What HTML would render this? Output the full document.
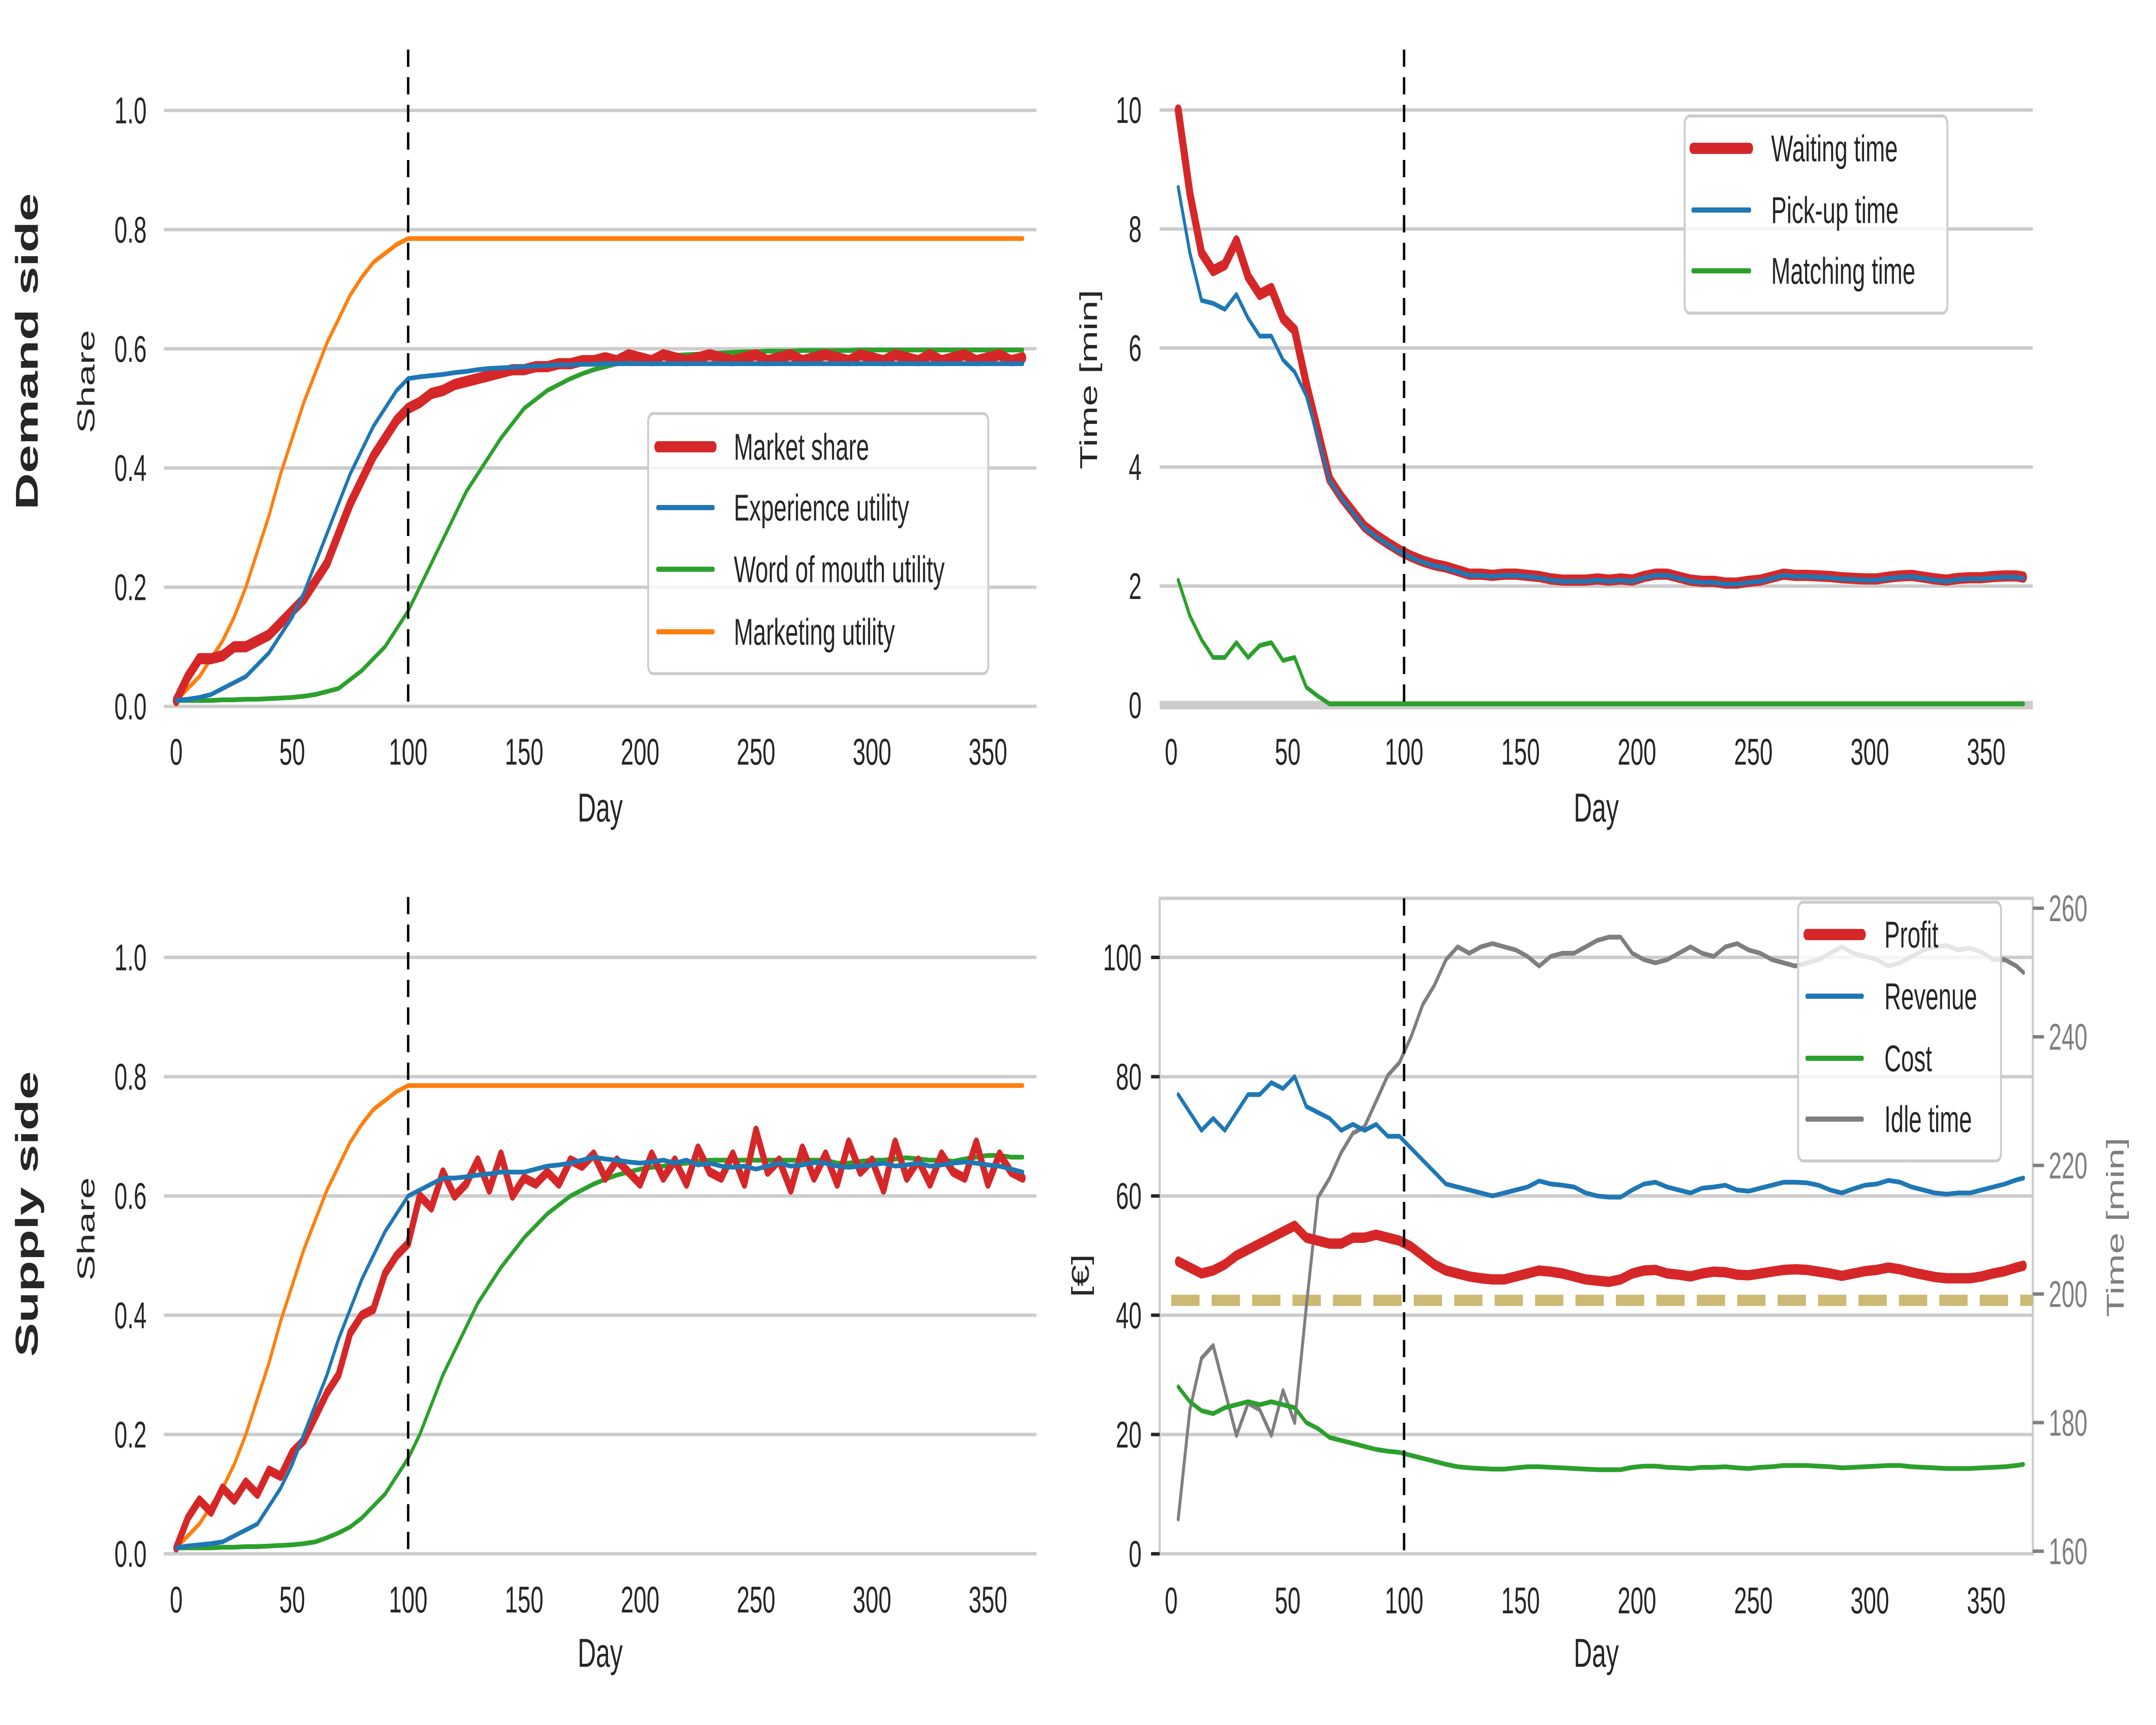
<!DOCTYPE html>
<html><head><meta charset="utf-8"><style>
html,body{margin:0;padding:0;background:#fff;overflow:hidden;}
svg{display:block;width:100vw;height:100vh;font-family:"Liberation Sans",Arial,sans-serif;}
</style></head><body>
<svg id="fig" viewBox="0 0 8000 4000" preserveAspectRatio="none" xmlns="http://www.w3.org/2000/svg">
<rect width="8000" height="4000" fill="#fff"/>
</svg>
<script>
// ---------- DATA ----------
const shareDays=[0,5,10,15,20,25,30,35,40,45,50,55,60,65,70,75,80,85,90,95,100,105,110,115,120,125,130,135,140,145,150,155,160,165,170,175,180,185,190,195,200,205,210,215,220,225,230,235,240,245,250,255,260,265,270,275,280,285,290,295,300,305,310,315,320,325,330,335,340,345,350,355,360,365];
const dMarketShare=[0.01,0.05,0.08,0.08,0.085,0.1,0.1,0.11,0.12,0.14,0.16,0.18,0.21,0.24,0.29,0.34,0.38,0.42,0.45,0.48,0.5,0.51,0.525,0.53,0.54,0.545,0.55,0.555,0.56,0.565,0.565,0.57,0.57,0.575,0.575,0.58,0.58,0.585,0.58,0.59,0.585,0.58,0.59,0.585,0.58,0.585,0.59,0.585,0.58,0.585,0.59,0.58,0.585,0.59,0.58,0.585,0.59,0.585,0.58,0.59,0.585,0.58,0.59,0.585,0.58,0.59,0.58,0.585,0.59,0.58,0.585,0.59,0.58,0.585];
const dExperience=[0.01,0.012,0.015,0.02,0.03,0.04,0.05,0.07,0.09,0.12,0.15,0.19,0.24,0.29,0.34,0.39,0.43,0.47,0.5,0.53,0.55,0.553,0.555,0.557,0.56,0.562,0.565,0.567,0.568,0.569,0.57,0.571,0.572,0.573,0.573,0.574,0.574,0.575,0.575,0.575,0.575,0.575,0.575,0.575,0.575,0.575,0.575,0.575,0.575,0.575,0.575,0.575,0.575,0.575,0.575,0.575,0.575,0.575,0.575,0.575,0.575,0.575,0.575,0.575,0.575,0.575,0.575,0.575,0.575,0.575,0.575,0.575,0.575,0.575];
const dWordOfMouth=[0.01,0.01,0.01,0.01,0.011,0.011,0.012,0.012,0.013,0.014,0.015,0.017,0.02,0.025,0.03,0.045,0.06,0.08,0.1,0.13,0.16,0.2,0.24,0.28,0.32,0.36,0.39,0.42,0.45,0.475,0.5,0.515,0.53,0.54,0.55,0.558,0.565,0.57,0.575,0.579,0.583,0.585,0.587,0.589,0.59,0.591,0.592,0.593,0.594,0.595,0.595,0.596,0.596,0.596,0.597,0.597,0.597,0.597,0.597,0.598,0.598,0.598,0.598,0.598,0.598,0.598,0.598,0.598,0.598,0.598,0.598,0.598,0.598,0.598];
const dMarketing=[0.01,0.03,0.05,0.08,0.11,0.15,0.2,0.26,0.32,0.39,0.45,0.51,0.56,0.61,0.65,0.69,0.72,0.745,0.76,0.775,0.785,0.785,0.785,0.785,0.785,0.785,0.785,0.785,0.785,0.785,0.785,0.785,0.785,0.785,0.785,0.785,0.785,0.785,0.785,0.785,0.785,0.785,0.785,0.785,0.785,0.785,0.785,0.785,0.785,0.785,0.785,0.785,0.785,0.785,0.785,0.785,0.785,0.785,0.785,0.785,0.785,0.785,0.785,0.785,0.785,0.785,0.785,0.785,0.785,0.785,0.785,0.785,0.785,0.785];

const sMarketShare=[0.01,0.06,0.09,0.07,0.11,0.09,0.12,0.1,0.14,0.13,0.17,0.19,0.23,0.27,0.3,0.37,0.4,0.41,0.47,0.5,0.52,0.6,0.58,0.64,0.6,0.62,0.66,0.61,0.67,0.6,0.63,0.62,0.64,0.62,0.66,0.65,0.67,0.63,0.66,0.64,0.62,0.67,0.63,0.66,0.62,0.68,0.64,0.63,0.67,0.62,0.71,0.64,0.66,0.61,0.68,0.63,0.67,0.62,0.69,0.64,0.66,0.61,0.69,0.63,0.66,0.62,0.67,0.64,0.63,0.69,0.62,0.67,0.64,0.63];
const sExperience=[0.01,0.013,0.015,0.017,0.02,0.03,0.04,0.05,0.08,0.11,0.15,0.2,0.25,0.3,0.36,0.41,0.46,0.5,0.54,0.57,0.6,0.61,0.62,0.63,0.63,0.632,0.635,0.637,0.64,0.64,0.64,0.645,0.65,0.652,0.655,0.66,0.665,0.662,0.66,0.657,0.655,0.657,0.66,0.655,0.66,0.652,0.655,0.65,0.648,0.65,0.645,0.65,0.655,0.65,0.652,0.656,0.655,0.65,0.648,0.65,0.652,0.655,0.65,0.652,0.655,0.65,0.652,0.655,0.657,0.655,0.652,0.65,0.645,0.64];
const sWordOfMouth=[0.01,0.01,0.01,0.01,0.011,0.011,0.012,0.012,0.013,0.014,0.015,0.017,0.02,0.027,0.035,0.045,0.06,0.08,0.1,0.13,0.16,0.2,0.25,0.3,0.34,0.38,0.42,0.45,0.48,0.505,0.53,0.55,0.57,0.585,0.6,0.61,0.62,0.628,0.635,0.64,0.645,0.648,0.65,0.653,0.655,0.658,0.66,0.66,0.66,0.66,0.66,0.66,0.66,0.66,0.66,0.66,0.66,0.655,0.655,0.658,0.66,0.66,0.662,0.664,0.662,0.66,0.66,0.658,0.662,0.665,0.668,0.668,0.665,0.665];
const sMarketing=dMarketing;

const timeDays=[3,8,13,18,23,28,33,38,43,48,53,58,63,68,73,78,83,88,93,98,103,108,113,118,123,128,133,138,143,148,153,158,163,168,173,178,183,188,193,198,203,208,213,218,223,228,233,238,243,248,253,258,263,268,273,278,283,288,293,298,303,308,313,318,323,328,333,338,343,348,353,358,363,366];
const waitingTime=[10.0,8.6,7.6,7.3,7.4,7.8,7.2,6.9,7.0,6.5,6.3,5.4,4.6,3.8,3.5,3.25,3.0,2.85,2.72,2.6,2.5,2.42,2.36,2.32,2.26,2.2,2.2,2.18,2.2,2.2,2.18,2.16,2.12,2.1,2.1,2.1,2.12,2.1,2.12,2.1,2.16,2.2,2.2,2.15,2.1,2.08,2.08,2.05,2.05,2.08,2.1,2.15,2.2,2.18,2.18,2.17,2.16,2.14,2.13,2.12,2.12,2.15,2.17,2.18,2.15,2.12,2.1,2.13,2.14,2.14,2.16,2.17,2.17,2.15];
const pickupTime=[8.7,7.6,6.8,6.75,6.65,6.9,6.5,6.2,6.2,5.8,5.6,5.2,4.5,3.78,3.48,3.23,2.98,2.83,2.7,2.58,2.48,2.4,2.34,2.3,2.24,2.18,2.18,2.16,2.18,2.18,2.16,2.14,2.1,2.08,2.08,2.08,2.1,2.08,2.1,2.08,2.14,2.18,2.18,2.13,2.08,2.06,2.06,2.03,2.03,2.06,2.08,2.13,2.18,2.16,2.16,2.15,2.14,2.12,2.11,2.1,2.1,2.13,2.15,2.16,2.13,2.1,2.08,2.11,2.12,2.12,2.14,2.15,2.15,2.13];
const matchingTime=[2.1,1.5,1.1,0.8,0.8,1.05,0.8,1.0,1.05,0.75,0.8,0.3,0.15,0.02,0.02,0.02,0.02,0.02,0.02,0.02,0.02,0.02,0.02,0.02,0.02,0.02,0.02,0.02,0.02,0.02,0.02,0.02,0.02,0.02,0.02,0.02,0.02,0.02,0.02,0.02,0.02,0.02,0.02,0.02,0.02,0.02,0.02,0.02,0.02,0.02,0.02,0.02,0.02,0.02,0.02,0.02,0.02,0.02,0.02,0.02,0.02,0.02,0.02,0.02,0.02,0.02,0.02,0.02,0.02,0.02,0.02,0.02,0.02,0.02];

const revenue=[77,74,71,73,71,74,77,77,79,78,80,75,74,73,71,72,71,72,70,70,68,66,64,62,61.5,61,60.5,60,60.5,61,61.5,62.5,62,61.8,61.5,60.5,60,59.8,59.8,61,62,62.3,61.5,61,60.5,61.3,61.5,61.8,61,60.8,61.3,61.8,62.3,62.3,62.2,61.8,61,60.5,61.2,61.8,62,62.6,62.3,61.5,61,60.5,60.3,60.5,60.5,61,61.5,62,62.7,63];
const profit=[49,48,47,47.5,48.5,50,51,52,53,54,55,53,52.5,52,52,53,53,53.5,53,52.5,51.5,50,48.5,47.5,47,46.5,46.2,46,46,46.5,47,47.5,47.3,47,46.5,46,45.8,45.6,46,47,47.5,47.6,47,46.8,46.5,47,47.3,47.2,46.8,46.7,47,47.3,47.6,47.7,47.6,47.3,47,46.6,47,47.4,47.6,48,47.7,47.2,46.8,46.4,46.2,46.2,46.2,46.5,47,47.4,48,48.3];
const cost=[28,25.5,24,23.5,24.5,25,25.5,25,25.5,25,24.5,22,21,19.5,19,18.5,18,17.5,17.2,17,16.5,16,15.5,15,14.6,14.4,14.3,14.2,14.2,14.4,14.6,14.6,14.5,14.4,14.3,14.2,14.1,14.1,14.1,14.5,14.7,14.7,14.5,14.4,14.3,14.5,14.5,14.6,14.4,14.3,14.5,14.6,14.8,14.8,14.8,14.7,14.6,14.4,14.5,14.6,14.7,14.8,14.8,14.6,14.5,14.4,14.3,14.3,14.3,14.4,14.5,14.6,14.8,15];
const idleTime=[165,182,190,192,185,178,183,182,178,185,180,198,215,218,222,225,226,230,234,236,240,245,248,252,254,253,254,254.5,254,253.5,252.5,251,252.5,253,253,254,255,255.5,255.5,253,252,251.5,252,253,254,253,252.5,254,254.5,253.5,253,252,251.5,251,251.5,252,253,254,253,252.5,252,251,251.5,252.5,253.5,254,254.2,253.5,253.8,253.2,252,252,251,250];
const profitRef=42.5;
const xTicks=[0,50,100,150,200,250,300,350];
const shareTicks=[0,0.2,0.4,0.6,0.8,1.0];
const timeTicks=[0,2,4,6,8,10];
const euroTicks=[0,20,40,60,80,100];
const idleTicks=[160,180,200,220,240,260];
const policyDay=100;

// ---------- DRAW ----------
const NS='http://www.w3.org/2000/svg';
const svg=document.getElementById('fig');
function el(tag,attrs,parent){const e=document.createElementNS(NS,tag);for(const k in attrs)e.setAttribute(k,attrs[k]);(parent||svg).appendChild(e);return e;}
function txt(s,attrs,parent){const e=el('text',attrs,parent);e.textContent=s;return e;}
const C={red:'#d62728',blue:'#1f77b4',green:'#2ca02c',orange:'#ff7f0e',gray:'#7f7f7f',tan:'#ccb974',txt:'#262626',grid:'#cccccc'};

function panel(o){
  const g=el('g',{});
  
  
  const sx=d=>o.x0+(d-0)*o.kx;
  const sy=v=>o.yb-(v-o.ymin)/(o.ymax-o.ymin)*(o.yb-o.yt);
  if(o.frame){const r=el('rect',{x:o.ax0,y:o.ft,width:o.ax1-o.ax0,height:o.yb-o.ft,fill:'none',stroke:C.grid,'stroke-width':8},g);
    }
  o.yticks.forEach(v=>{
    const y=sy(v);
    const l=el('line',{x1:o.ax0,x2:o.ax1,y1:y,y2:y,stroke:C.grid,'stroke-width':(v===o.ymin&&o.thickBase)?20:8},g);
    
    if(o.leftTicks){const t=el('line',{x1:o.ax0-32,x2:o.ax0,y1:y,y2:y,stroke:C.txt,'stroke-width':8},g);}
    const t=txt(o.fmt(v),{x:o.ylx,y:y+30,'font-size':86,'text-anchor':'end',fill:C.txt},g);
    
  });
  xTicks.forEach(d=>{const t=txt(String(d),{x:sx(d),y:o.xly,'font-size':86,'text-anchor':'middle',fill:C.txt},g);
    });
  const xl=txt('Day',{x:(o.ax0+o.ax1)/2,y:o.xty,'font-size':94,'text-anchor':'middle',fill:C.txt},g);
  
  const yl=txt(o.ylabel,{x:0,y:0,'font-size':90,'text-anchor':'middle',fill:C.txt,transform:`translate(${o.ytx},${o.yty}) rotate(-90)`},g);
  
  if(o.extra)o.extra(g,sx,sy);
  o.series.forEach(s=>{
    const ys=s.right?o.sy2:sy;
    const d=s.vals.map((v,i)=>(i?'L':'M')+sx(s.days[i]).toFixed(1)+' '+ys(v).toFixed(1)).join(' ');
    const p=el('path',{d,fill:'none',stroke:s.c,'stroke-width':s.w,'stroke-linejoin':'round','stroke-linecap':'round'},g);
    
  });
  const vx=sx(policyDay);
  const vl=el('line',{x1:vx,x2:vx,y1:o.vt,y2:o.yb,stroke:'#000','stroke-width':9,'stroke-dasharray':'40 24'},g);
  
  if(o.legend){const L=o.legend;
    const lg=el('g',{},g);
    el('rect',{x:L.x,y:L.y,width:L.w,height:L.h,rx:18,fill:'#fff','fill-opacity':0.8,stroke:C.grid,'stroke-width':7},lg);
    L.items.forEach((it,i)=>{const yy=L.ys[i];
      const e=el('g',{},lg);
      el('line',{x1:L.lx0,x2:L.lx1,y1:yy,y2:yy,stroke:it.c,'stroke-width':it.w,'stroke-linecap':'round'},e);
      txt(it.t,{x:L.tx,y:yy+30,'font-size':86,fill:C.txt},e);});
  }
  return {sx,sy};
}

const shareFmt=v=>v.toFixed(1);
panel({name:'demand-share-chart',x0:654,kx:8.605,ax0:608,ax1:3846,yb:1638,yt:256,ymin:0,ymax:1,yticks:shareTicks,fmt:shareFmt,ylx:544,xly:1773,xty:1905,ylabel:'Share',ytx:350,yty:885,vt:115,
  series:[{name:'marketing-utility-line',days:shareDays,vals:dMarketing,c:C.orange,w:11},
          {name:'word-of-mouth-line',days:shareDays,vals:dWordOfMouth,c:C.green,w:11},
          {name:'market-share-line',days:shareDays,vals:dMarketShare,c:C.red,w:26},
          {name:'experience-utility-line',days:shareDays,vals:dExperience,c:C.blue,w:11}],
  legend:{x:2405,y:959,w:1262,h:603,lx0:2441,lx1:2646,tx:2723,ys:[1036,1177,1320,1465],
    items:[{t:'Market share',c:C.red,w:26},{t:'Experience utility',c:C.blue,w:12},{t:'Word of mouth utility',c:C.green,w:12},{t:'Marketing utility',c:C.orange,w:12}]}});

panel({name:'demand-time-chart',x0:4346,kx:8.64,ax0:4303,ax1:7543,yb:1635,yt:255,ymin:0,ymax:10,yticks:timeTicks,fmt:v=>String(v),ylx:4236,xly:1773,xty:1905,ylabel:'Time [min]',ytx:4070,yty:880,vt:115,thickBase:true,
  series:[{name:'matching-time-line',days:timeDays,vals:matchingTime,c:C.green,w:11},
          {name:'waiting-time-line',days:timeDays,vals:waitingTime,c:C.red,w:26},
          {name:'pickup-time-line',days:timeDays,vals:pickupTime,c:C.blue,w:11}],
  legend:{x:6251,y:269,w:975,h:457,lx0:6282,lx1:6492,tx:6572,ys:[344,487,628],
    items:[{t:'Waiting time',c:C.red,w:26},{t:'Pick-up time',c:C.blue,w:12},{t:'Matching time',c:C.green,w:12}]}});

panel({name:'supply-share-chart',x0:654,kx:8.605,ax0:608,ax1:3846,yb:3603,yt:2220,ymin:0,ymax:1,yticks:shareTicks,fmt:shareFmt,ylx:544,xly:3739,xty:3865,ylabel:'Share',ytx:350,yty:2850,vt:2080,
  series:[{name:'marketing-utility-line',days:shareDays,vals:sMarketing,c:C.orange,w:11},
          {name:'word-of-mouth-line',days:shareDays,vals:sWordOfMouth,c:C.green,w:11},
          {name:'market-share-line',days:shareDays,vals:sMarketShare,c:C.red,w:22},
          {name:'experience-utility-line',days:shareDays,vals:sExperience,c:C.blue,w:11}]});

const idleY=v=>3597-(v-160)/100*(3597-2106);
panel({name:'supply-money-chart',x0:4346,kx:8.64,ax0:4303,ax1:7543,yb:3603,yt:2220,ft:2083,ymin:0,ymax:100,yticks:euroTicks,fmt:v=>String(v),ylx:4236,xly:3741,xty:3865,ylabel:'[€]',ytx:4040,yty:2958,vt:2083,frame:true,leftTicks:true,sy2:idleY,
  extra:(g,sx,sy)=>{
    idleTicks.forEach(v=>{const y=idleY(v);
      const t=el('line',{x1:7543,x2:7584,y1:y,y2:y,stroke:C.gray,'stroke-width':8},g);
      const l=txt(String(v),{x:7602,y:y+30,'font-size':86,fill:C.gray},g);});
    const rl=txt('Time [min]',{x:0,y:0,'font-size':90,'text-anchor':'middle',fill:C.gray,transform:`translate(7880,2846) rotate(-90)`},g);
    
    const ry=sy(profitRef);
    const r=el('line',{x1:4346,x2:7543,y1:ry,y2:ry,stroke:C.tan,'stroke-width':26,'stroke-dasharray':'105 45'},g);
    
  },
  series:[{name:'idle-time-line',days:timeDays,vals:idleTime,c:C.gray,w:11,right:true},
          {name:'revenue-line',days:timeDays,vals:revenue,c:C.blue,w:11},
          {name:'cost-line',days:timeDays,vals:cost,c:C.green,w:11},
          {name:'profit-line',days:timeDays,vals:profit,c:C.red,w:24}],
  legend:{x:6672,y:2092,w:753,h:600,lx0:6705,lx1:6910,tx:6992,ys:[2167,2310,2454,2595],
    items:[{t:'Profit',c:C.red,w:26},{t:'Revenue',c:C.blue,w:12},{t:'Cost',c:C.green,w:12},{t:'Idle time',c:C.gray,w:12}]}});

const t1=txt('Demand side',{x:0,y:0,'font-size':118,'font-weight':'bold','text-anchor':'middle',fill:C.txt,transform:'translate(140,815) rotate(-90)'});


const t2=txt('Supply side',{x:0,y:0,'font-size':118,'font-weight':'bold','text-anchor':'middle',fill:C.txt,transform:'translate(140,2815) rotate(-90)'});


</script>
</body></html>
